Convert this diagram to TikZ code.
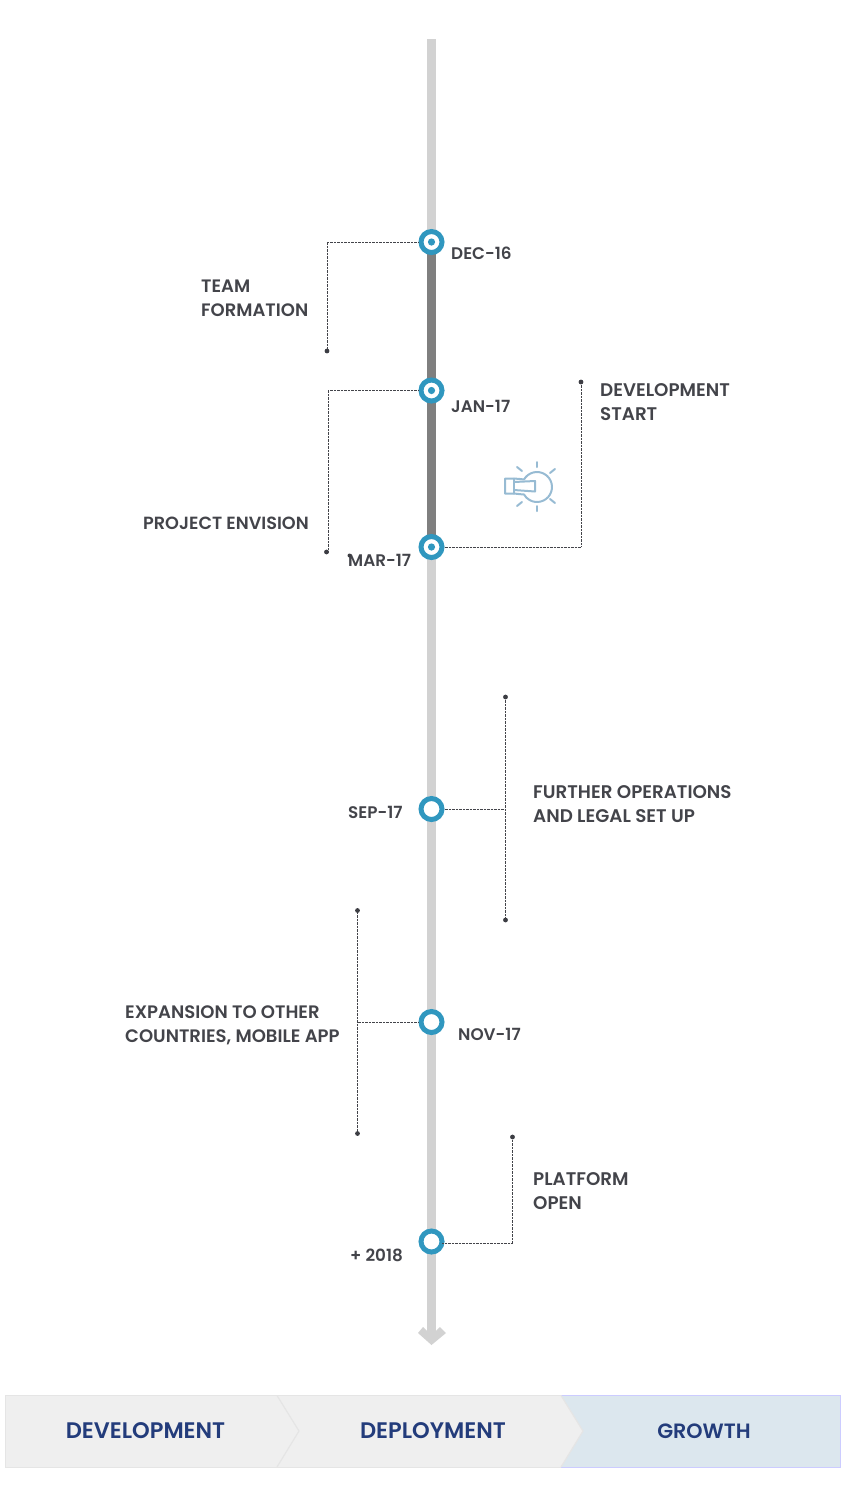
\documentclass[tikz,border=0pt]{standalone}
\usepackage{fontspec}
\setmainfont{Poppins}[UprightFont=* Medium,BoldFont=* SemiBold]
\usepackage{tikz}
\usetikzlibrary{arrows.meta, calc}
\definecolor{ringblue}{HTML}{3097BF}
\definecolor{barlight}{HTML}{D2D2D2}
\definecolor{bardark}{HTML}{7F7F7F}
\definecolor{inkgrey}{HTML}{43444A}
\definecolor{navytext}{HTML}{233C7B}
\definecolor{bulbblue}{HTML}{97BBD3}
\definecolor{stagegrey}{HTML}{EFEFEF}
\definecolor{stageblue}{HTML}{DCE7EE}
\tikzset{
  milemark/.style={circle, draw=ringblue, fill=white, line width=5pt, minimum size=21pt, inner sep=0pt},
  datelabel/.style={anchor=west, text=inkgrey, font=\fontsize{16.8}{24}\selectfont\bfseries, inner sep=0pt},
  tasklabel/.style={anchor=west, align=left, text=inkgrey, font=\fontsize{#1}{24}\selectfont\bfseries, inner sep=0pt},
  tasklabel/.default=18.3,
  stagelabel/.style={text=navytext, font=\fontsize{#1}{24}\selectfont\bfseries, inner sep=0pt},
  stagelabel/.default=22.5,
  leader/.style={inkgrey, line width=0.6pt, dotted, dash pattern=on 0.7pt off 0.7pt},
  enddot/.style={circle, fill=inkgrey!90!black, minimum size=4.8pt, inner sep=0pt},
  bulbline/.style={bulbblue, line width=2pt, line cap=round, line join=round}
}
\begin{document}
\begin{tikzpicture}[x=1pt,y=-1pt]
\useasboundingbox (0,0) rectangle (850,1500);
% timeline
\coordinate (top) at (431.5,39);
\coordinate (bottom) at (431.5,1336);
\draw[barlight, line width=9pt] (top)--(bottom);
\fill[barlight] (418,1333)--(423,1327)--(431.5,1335)--(440,1327)--(446,1333)--(431.5,1345)--cycle;
\draw[bardark, line width=9pt] (431.5,242)--(431.5,547);
% milestones
\foreach \name/\y in {dec/242, jan/390.5, mar/547} {
  \node[milemark] (\name) at (431.5,\y) {};
  \fill[ringblue] (\name) circle (3.6pt);
}
\foreach \name/\y in {sep/809, nov/1022, open/1241.5}
  \node[milemark] (\name) at (431.5,\y) {};
% dates
\node[datelabel] (decdate) at (451,253) {DEC-16};
\node[datelabel] (jandate) at (451,406) {JAN-17};
\node[datelabel] (mardate) at (348,560) {MAR-17};
\node[datelabel] (sepdate) at (348,812) {SEP-17};
\node[datelabel] (novdate) at (458,1034) {NOV-17};
\node[datelabel] (opendate) at (350,1255) {+ 2018};
% tasks
\node[tasklabel=18] (team) at (201,298) {TEAM\\FORMATION};
\node[tasklabel=17.65] (envision) at (143,523) {PROJECT ENVISION};
\node[tasklabel] (devstart) at (600,402) {DEVELOPMENT\\START};
\node[tasklabel] (legal) at (533,804) {FURTHER OPERATIONS\\AND LEGAL SET UP};
\node[tasklabel=18.05] (expansion) at (125,1025.5) {EXPANSION TO OTHER\\COUNTRIES, MOBILE APP};
\node[tasklabel] (platform) at (533,1191) {PLATFORM\\OPEN};
% leaders
\node[enddot] (teamend) at (327,351) {};
\node[enddot] (envend) at (326.5,552) {};
\node[enddot] (devend) at (581,382) {};
\node[enddot] (legalup) at (505.5,697) {};
\node[enddot] (legaldown) at (505.5,920) {};
\node[enddot] (expup) at (357.5,910.5) {};
\node[enddot] (expdown) at (357.5,1133.5) {};
\node[enddot] (openend) at (512.5,1137) {};
\node[enddot, minimum size=4pt] (strayend) at (349.5,555.5) {};
\draw[leader] (dec) -| (teamend);
\draw[leader] (jan.west) -- (328,390.5) -- (328,552) -- (envend);
\draw[leader] (mar) -| (devend);
\draw[leader] (legalup)--(legaldown);
\draw[leader] (sep.east) -- (legalup |- sep);
\draw[leader] (expup)--(expdown);
\draw[leader] (nov.west) -- (expup |- nov);
\draw[leader] (442,1243.5) -- (512.5,1243.5) -- (openend);
% bulb
\draw[bulbline] (514,478.5) .. controls (519,479) and (522,479) .. (524,479.5) arc[start angle=150, end angle=-150, radius=15pt] .. controls (522,494.5) and (519,494) .. (514,493.5) -- (505,493.5) -- (505,478.5) -- cycle;
\draw[bulbline] (514,478.5)--(514,493.5);
\draw[bulbline] (514,482)--(535,481)--(535,491.5)--(514,490);
\foreach \xa/\ya/\xb/\yb in {537/462/537/467, 517/467/522/471, 555/469/550/473, 537/506/537/511, 517/506/522/502, 555/503/550/499}
  \draw[bulbline] (\xa,\ya)--(\xb,\yb);
% stages
\fill[stageblue] (561,1395.5)--(840,1395.5)--(840,1467)--(561,1467)--(583,1431)--cycle;
\draw[blue!20, line width=0.8pt] (561,1395.5)--(840,1395.5)--(840,1467)--(561,1467);
\fill[stagegrey] (277,1395.5)--(561,1395.5)--(583,1431)--(561,1467)--(277,1467)--(299,1431)--cycle;
\fill[stagegrey] (5,1395.5)--(277,1395.5)--(299,1431)--(277,1467)--(5,1467)--cycle;
\draw[black!10, line width=0.8pt] (277,1395.5)--(5,1395.5)--(5,1467)--(277,1467);
\draw[black!10, line width=0.8pt] (277,1395.5)--(561,1395.5) (277,1467)--(561,1467);
\draw[black!10, line width=1.2pt] (277,1395.5)--(299,1431)--(277,1467) (561,1395.5)--(583,1431)--(561,1467);
\node[stagelabel] (development) at (145.5,1431) {DEVELOPMENT};
\node[stagelabel] (deployment) at (433,1431) {DEPLOYMENT};
\node[stagelabel=20.7] (growth) at (704,1431) {GROWTH};
\end{tikzpicture}
\end{document}
